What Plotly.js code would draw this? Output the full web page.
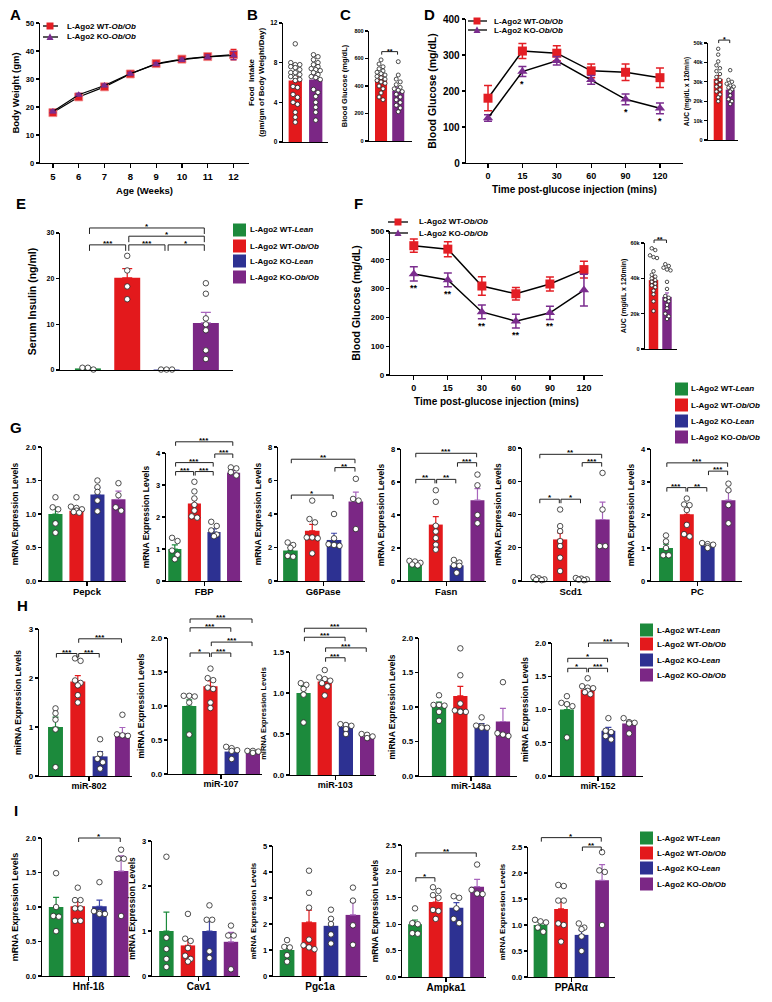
<!DOCTYPE html>
<html><head><meta charset="utf-8">
<script src="https://cdn.plot.ly/plotly-3.0.1.min.js"></script>
<style>html,body{margin:0;padding:0;background:#fff}#chart{width:772px;height:1002px}</style>
</head><body><div id="chart"></div>
<script>
// ===================== DATA =====================
const groupNames = ['L-Ago2 WT-<i>Lean</i>','L-Ago2 WT-<i>Ob/Ob</i>','L-Ago2 KO-<i>Lean</i>','L-Ago2 KO-<i>Ob/Ob</i>'];
const lineNames = ['L-Ago2 WT-<i>Ob/Ob</i>','L-Ago2 KO-<i>Ob/Ob</i>'];

// A: body weight
const ageWeeks = [5,6,7,8,9,10,11,12];
const bodyWtWT = [18.0,23.6,27.2,31.8,35.5,37.1,38.0,38.7];
const bodyWtWTErr = [0.6,0.6,0.6,0.5,0.5,0.6,0.7,1.9];
const bodyWtKO = [18.4,24.4,27.7,31.9,35.3,36.9,37.9,38.4];
const bodyWtKOErr = [0.5,0.5,0.5,0.5,0.5,0.6,0.7,1.5];

// B: food intake
const foodMean = [6.2,6.3];
const foodErr = [0.4,0.4];
const foodWT = [9.9,8.0,7.8,7.8,7.6,7.5,7.3,7.0,7.0,6.8,6.6,6.5,6.3,6.2,5.6,5.5,4.8,4.5,4.0,3.8,3.0,2.5,2.0];
const foodKO = [8.8,8.6,8.3,8.0,7.8,7.6,7.4,7.3,7.2,7.0,6.8,6.6,6.5,6.3,5.3,5.0,4.6,4.0,3.5,3.0,2.2];

// C: fasting blood glucose
const glucMean = [450,365];
const glucErr = [22,25];
const glucWT = [590,560,540,525,510,500,490,480,470,460,450,440,430,420,400,380,350,320,300];
const glucKO = [577,480,450,430,410,390,380,370,360,340,320,300,280,260,240,213];
const glucSig = [[0,1,650,'**']];

// D: GTT
const gttTimes = ['0','15','30','60','90','120'];
const gttWT = [180,311,305,256,252,237];
const gttWTErr = [35,21,21,19,23,27];
const gttKO = [125,254,284,231,177,152];
const gttKOErr = [9,14,12,12,15,15];
const gttSig = ['','*','','','*','*'];
const gttAucMean = [31500,26000];
const gttAucErr = [1700,1500];
const gttAucWT = [47000,44000,40500,38500,37000,35500,34000,32500,31000,30000,28500,27500,26000,25000,23500,22000,20000];
const gttAucKO = [36000,31000,30000,29000,28000,27500,27000,26000,25000,23000,21000,20000,18500];
const gttAucSig = [[0,1,51500,'*']];

// E: serum insulin
const insulinMean = [0.35,20.2,0.1,10.3];
const insulinErr = [0.15,2.0,0.05,2.3];
const insulinPts = [[0.1,0.5,0.5],[25.0,21.8,18.3,15.5],[0.1,0.1,0.1],[19.0,16.7,11.3,10.0,8.7,4.3,2.4]];
const insulinSig = [[0,3,31.1,'*'],[1,3,29.3,'*'],[0,1,27.4,'***'],[1,2,27.4,'***'],[2,3,27.4,'*']];

// F: ITT
const ittWT = [449,437,309,282,316,366];
const ittWTErr = [23,26,32,22,24,29];
const ittKO = [351,330,219,187,216,295];
const ittKOErr = [25,24,24,24,23,55];
const ittSig = ['**','**','**','**','**',''];
const ittAucMean = [39000,29500];
const ittAucErr = [2300,2300];
const ittAucWT = [57000,56000,53000,52000,51500,44000,42000,41000,40000,39000,38000,37000,36000,35000,33000,31000,27000,21500];
const ittAucKO = [48000,47000,46000,45000,44500,38000,34000,30000,29000,28000,27000,25000,23000,20000,18500,17000];
const ittAucSig = [[0,1,61700,'**']];

// G: mRNA
const pepckMean = [1.00,1.05,1.29,1.22];
const pepckErr = [0.10,0.04,0.10,0.12];
const pepckPts = [[1.25,1.10,1.07,0.86,0.72],[1.25,1.11,1.09,1.07,1.05,1.03,1.02],[1.50,1.40,1.33,1.20,1.04],[1.46,1.28,1.10,1.05]];
const fbpMean = [1.00,2.42,1.53,3.38];
const fbpErr = [0.13,0.15,0.10,0.08];
const fbpPts = [[1.35,1.25,0.95,0.82,0.68],[3.10,2.80,2.58,2.38,2.20,2.02,1.98],[1.85,1.72,1.58,1.45,1.40],[3.55,3.52,3.40,3.30]];
const fbpSig = [[0,3,4.35,'***'],[2,3,3.97,'***'],[0,2,3.70,'***'],[0,1,3.42,'***'],[1,2,3.42,'***']];
const g6pMean = [1.82,3.00,2.45,4.75];
const g6pErr = [0.18,0.38,0.40,0.55];
const g6pPts = [[2.30,2.15,1.98,1.50,1.45],[4.80,3.70,3.50,2.60,2.60,2.55,1.65],[4.00,2.55,2.20,2.15,2.10],[6.10,4.90,4.80,3.10]];
const g6pSig = [[0,3,7.27,'**'],[2,3,6.77,'**'],[0,2,5.13,'*']];
const fasnMean = [1.05,3.42,0.95,4.90];
const fasnErr = [0.06,0.48,0.11,0.70];
const fasnPts = [[1.22,1.18,1.10,1.00,0.95],[5.50,4.80,3.35,3.00,2.60,2.20,1.90],[1.28,1.12,0.95,0.92,0.50],[6.45,5.80,4.00,3.50]];
const fasnSig = [[0,3,7.74,'***'],[2,3,7.17,'***'],[0,1,6.16,'**'],[1,2,6.16,'**']];
const scd1Mean = [1.3,25.0,1.0,37.0];
const scd1Err = [0.4,4.0,0.3,10.5];
const scd1Pts = [[2.3,1.6,1.0,0.8,0.5],[43,33,30,24,21,14,6],[1.8,1.4,1.0,0.8,0.5],[65,43,21,21]];
const scd1Sig = [[0,3,76.2,'**'],[2,3,71.2,'***'],[0,1,49.2,'*'],[1,2,49.2,'*']];
const pcMean = [1.00,2.02,1.07,2.45];
const pcErr = [0.12,0.16,0.04,0.27];
const pcPts = [[1.38,1.20,1.00,0.78,0.78],[2.50,2.32,2.30,2.15,1.70,1.42,1.35],[1.15,1.12,1.10,1.05,1.00],[2.95,2.75,2.30,1.75]];
const pcSig = [[0,3,3.58,'***'],[2,3,3.33,'***'],[0,1,2.83,'***'],[1,2,2.83,'**']];

// H: miRNA
const mir802Mean = [1.00,1.93,0.40,0.87];
const mir802Err = [0.20,0.12,0.10,0.12];
const mir802Pts = [[1.38,1.28,1.15,0.95,0.18],[2.40,2.35,1.95,1.90,1.85,1.65,1.50],[0.75,0.45,0.35,0.28,0.15],[1.25,0.85,0.83,0.82]];
const mir802Sig = [[1,3,2.80,'***'],[0,1,2.50,'***'],[1,2,2.50,'***']];
const mir107Mean = [1.00,1.29,0.33,0.31];
const mir107Err = [0.09,0.08,0.03,0.02];
const mir107Pts = [[1.15,1.15,1.14,1.05,0.58],[1.55,1.41,1.38,1.27,1.25,1.05,0.97],[0.40,0.38,0.35,0.34,0.22],[0.34,0.34,0.33,0.31]];
const mir107Sig = [[0,3,2.28,'***'],[0,2,2.15,'***'],[1,3,1.94,'***'],[0,1,1.78,'*'],[1,2,1.78,'***']];
const mir103Mean = [1.00,1.14,0.59,0.47];
const mir103Err = [0.08,0.04,0.03,0.02];
const mir103Pts = [[1.12,1.10,1.05,0.98,0.64],[1.28,1.19,1.17,1.15,1.12,1.08,0.97],[0.62,0.61,0.60,0.56,0.50],[0.50,0.49,0.47,0.45]];
const mir103Sig = [[0,3,1.79,'***'],[0,2,1.68,'***'],[1,3,1.55,'***'],[1,2,1.43,'***']];
const mir148aMean = [1.02,1.16,0.73,0.79];
const mir148aErr = [0.05,0.14,0.03,0.19];
const mir148aPts = [[1.17,1.03,1.03,1.02,0.93,0.80],[1.85,1.46,1.05,0.95,0.94,0.93,0.93],[0.85,0.73,0.72,0.70,0.70],[1.36,0.62,0.60,0.58]];
const mir152Mean = [1.00,1.30,0.68,0.79];
const mir152Err = [0.10,0.04,0.05,0.03];
const mir152Pts = [[1.20,1.10,1.08,1.05,0.58],[1.47,1.35,1.33,1.32,1.28,1.26,1.23],[0.87,0.68,0.66,0.60,0.55],[0.87,0.81,0.80,0.79,0.64]];
const mir152Sig = [[1,3,2.00,'***'],[0,2,1.77,'*'],[0,1,1.62,'*'],[1,2,1.62,'***']];

// I: mRNA
const hnfMean = [1.00,1.01,1.01,1.52];
const hnfErr = [0.14,0.07,0.09,0.22];
const hnfPts = [[1.49,1.00,0.87,0.86,0.65],[1.28,1.10,1.10,0.98,0.98,0.80,0.80],[1.36,0.94,0.92,0.90,0.90],[1.83,1.70,1.70,0.87]];
const hnfSig = [[1,3,2.00,'*']];
const cav1Mean = [1.00,0.68,1.00,0.76];
const cav1Err = [0.42,0.12,0.22,0.21];
const cav1Pts = [[2.65,0.85,0.60,0.38,0.20],[1.38,0.83,0.78,0.62,0.45,0.38,0.32],[1.57,1.25,1.25,0.55,0.40],[1.12,0.90,0.90,0.15]];
const pgc1aMean = [1.00,2.07,1.93,2.35];
const pgc1aErr = [0.15,0.46,0.25,0.50];
const pgc1aPts = [[1.38,1.12,1.10,0.80,0.55],[4.05,3.20,2.63,1.40,1.18,1.10,1.03],[2.55,2.20,2.00,1.60,1.25],[3.40,2.90,1.95,1.20]];
const ampkMean = [1.00,1.42,1.31,1.71];
const ampkErr = [0.08,0.09,0.10,0.14];
const ampkPts = [[1.30,1.02,1.00,0.83,0.82],[1.70,1.63,1.55,1.50,1.27,1.25,1.10],[1.53,1.50,1.30,1.10,1.02],[2.13,1.65,1.58,1.57]];
const ampkSig = [[0,3,2.35,'**'],[0,1,1.88,'*']];
const pparMean = [1.00,1.31,0.81,1.86];
const pparErr = [0.05,0.15,0.09,0.30];
const pparPts = [[1.10,1.07,1.05,0.95,0.87],[1.77,1.75,1.47,1.47,1.03,1.00,0.68],[1.03,0.95,0.92,0.78,0.50],[2.40,2.05,2.02,1.00]];
const pparSig = [[0,3,2.68,'*'],[2,3,2.50,'**']];

// ===================== STYLE / HELPERS =====================
const W = 772, H = 1002;
const FONT = '"Liberation Sans", Arial, sans-serif';
const COLORS = ['#1c8a3c','#e3191c','#2d3192','#7b2785'];
const ERRCOL = ['#1c8a3c','#e3191c','#3f47a8','#a865bd'];
const RED_M = '#e31e24', PUR_M = '#7b2d8e';
function f(size, extra){ return Object.assign({family: FONT, size: size, color:'#000', weight:'bold'}, extra||{}); }
function px(p){ return p / W; }
function py(p){ return 1 - p / H; }

const traces = [], shapes = [], annotations = [];
const layout = {width:W, height:H, margin:{l:0,r:0,t:0,b:0,pad:0}, paper_bgcolor:'#fff', plot_bgcolor:'rgba(0,0,0,0)',
  showlegend:false, barmode:'overlay', font:{family:FONT, color:'#000'}, shapes:shapes, annotations:annotations, hovermode:false};

let axN = 0;
function addAxes(box, xr, yr, xo, yo) {
  axN++;
  const s = axN === 1 ? '' : String(axN);
  const xa = 'x' + s, ya = 'y' + s;
  layout['xaxis' + s] = Object.assign({domain:[px(box[0]), px(box[1])], range:xr, anchor:ya, showline:true, linecolor:'#000', linewidth:1.3,
    showgrid:false, zeroline:false, fixedrange:true, ticks:'', showticklabels:false}, xo || {});
  layout['yaxis' + s] = Object.assign({domain:[py(box[3]), py(box[2])], range:yr, anchor:xa, showline:true, linecolor:'#000', linewidth:1.3,
    showgrid:false, zeroline:false, fixedrange:true, ticks:'outside', ticklen:3, tickwidth:1.2, tickcolor:'#000', tickmode:'linear', tick0:0}, yo || {});
  return {xa:xa, ya:ya};
}

function jitter(vals, thr, step, span) {
  const order = vals.map((v,i)=>i).sort((a,b)=>vals[b]-vals[a]);
  const off = vals.map(()=>0);
  const perRow = Math.max(1, Math.floor(span / step) + 1);
  let cl = [];
  const flush = () => {
    for (let r = 0; r < cl.length; r += perRow) {
      const row = cl.slice(r, r + perRow), m = row.length;
      row.forEach((ii,j)=>{ off[ii] = (j - (m-1)/2) * step; });
    }
    cl = [];
  };
  order.forEach(i => { if (cl.length && vals[cl[0]] - vals[i] > thr) flush(); cl.push(i); });
  flush();
  return off;
}

function addBracket(ax, s, ymax, ppu, tickPx, fs) {
  const a = s[0], b = s[1], v = s[2], lab = s[3];
  const yd = v / ymax, dy = tickPx / ppu / ymax;
  const x1 = a + 0.04, x2 = b - 0.04;
  shapes.push({type:'path', xref:ax.xa, yref:ax.ya + ' domain', path:'M' + x1 + ',' + (yd - dy) + ' L' + x1 + ',' + yd + ' L' + x2 + ',' + yd + ' L' + x2 + ',' + (yd - dy),
    line:{color:'#222', width:1}});
  annotations.push({xref:ax.xa, yref:ax.ya + ' domain', x:(a + b) / 2, y:yd, text:lab, showarrow:false, xanchor:'center', yanchor:'bottom', yshift:-4,
    font:f(fs || 8), borderpad:0});
}

function barPanel(cfg, d) {
  const groups = cfg.groups || [0,1,2,3];
  const xo = d.label ? {tickmode:'array', tickvals:[(groups.length - 1) / 2], ticktext:[d.label], ticks:'outside', ticklen:4, tickwidth:1.2,
    tickcolor:'#000', showticklabels:true, ticklabelstandoff:-3, tickfont:f(cfg.catSize || 9.5)} : {};
  const yo = {dtick:cfg.dtick, tickformat:cfg.fmt || '', tickfont:f(cfg.tickSize || 7.5),
    title:{text:d.ytitle, font:f(cfg.titleSize || 8.5), standoff:(cfg.standoff == null ? 4 : cfg.standoff)}};
  const ax = addAxes(cfg.box, cfg.xr, [0, cfg.ymax], xo, yo);
  const ppu = (cfg.box[3] - cfg.box[2]) / cfg.ymax;
  const xppu = (cfg.box[1] - cfg.box[0]) / (cfg.xr[1] - cfg.xr[0]);
  const ms = cfg.ms || 5.5;
  groups.forEach((g, i) => {
    traces.push({type:'bar', x:[i], y:[d.mean[i]], width:cfg.bw || 0.67, xaxis:ax.xa, yaxis:ax.ya, marker:{color:COLORS[g], line:{width:0}},
      error_y:{type:'data', array:[d.err[i]], arrayminus:[0], symmetric:false, color:ERRCOL[g], thickness:1.2, width:cfg.capW || 3},
      hoverinfo:'skip', showlegend:false});
  });
  const xs = [], ys = [];
  d.pts.forEach((arr, i) => {
    const off = jitter(arr, ms * 0.85 / ppu, ms * 1.0 / xppu, (cfg.bw || 0.67) * 0.85);
    arr.forEach((v, j) => { xs.push(i + off[j]); ys.push(v); });
  });
  traces.push({type:'scatter', mode:'markers', x:xs, y:ys, xaxis:ax.xa, yaxis:ax.ya, cliponaxis:false,
    marker:{symbol:'circle', size:ms, color:'#fff', line:{color:'#222', width:0.8}}, hoverinfo:'skip', showlegend:false});
  (d.sig || []).forEach(s => addBracket(ax, s, cfg.ymax, ppu, cfg.tickPx || 4, cfg.sigSize || 8));
  return ax;
}

function groupLegend(x0, rows, textX) {
  groupNames.forEach((nm, i) => {
    const y = rows[i];
    shapes.push({type:'rect', xref:'paper', yref:'paper', x0:px(x0), x1:px(x0 + 13), y0:py(y + 6.5), y1:py(y - 6.5), fillcolor:COLORS[i], line:{width:0}});
    annotations.push({xref:'paper', yref:'paper', x:px(textX), y:py(y), xanchor:'left', yanchor:'middle', text:nm, showarrow:false, font:f(8), borderpad:0});
  });
}
function lineLegend(l0, l1, mx, y, color, sym, textX, name, ms) {
  shapes.push({type:'line', xref:'paper', yref:'paper', x0:px(l0), x1:px(l1), y0:py(y), y1:py(y), line:{color:'#000', width:1.3}});
  if (sym === 'square') {
    shapes.push({type:'rect', xref:'paper', yref:'paper', x0:px(mx - ms/2), x1:px(mx + ms/2), y0:py(y + ms/2), y1:py(y - ms/2), fillcolor:color, line:{width:0}});
  } else {
    shapes.push({type:'path', xref:'paper', yref:'paper', path:'M' + px(mx - ms/2) + ',' + py(y + ms*0.42) + ' L' + px(mx + ms/2) + ',' + py(y + ms*0.42) +
      ' L' + px(mx) + ',' + py(y - ms*0.55) + ' Z', fillcolor:color, line:{width:0}});
  }
  annotations.push({xref:'paper', yref:'paper', x:px(textX), y:py(y), xanchor:'left', yanchor:'middle', text:name, showarrow:false, font:f(8), borderpad:0});
}

// ===================== PANEL A =====================
(function(){
  const ax = addAxes([40,249,23,163], [4.5,12.6], [0,50],
    {tick0:5, dtick:1, tickmode:'linear', ticks:'outside', ticklen:4, tickwidth:1.2, tickcolor:'#000', showticklabels:true, tickfont:f(9.5),
     title:{text:'Age (Weeks)', font:f(9.5), standoff:6}},
    {dtick:10, tickfont:f(7.5), title:{text:'Body Weight (gm)', font:f(9.5), standoff:4}});
  traces.push({type:'scatter', mode:'lines+markers', x:ageWeeks, y:bodyWtWT, xaxis:ax.xa, yaxis:ax.ya, line:{color:'#000', width:1.2},
    marker:{symbol:'square', size:8, color:RED_M, line:{color:'#f08a8a', width:0.8}}, error_y:{type:'data', array:bodyWtWTErr, color:RED_M, thickness:1.2, width:3}, cliponaxis:false});
  traces.push({type:'scatter', mode:'lines+markers', x:ageWeeks, y:bodyWtKO, xaxis:ax.xa, yaxis:ax.ya, line:{color:'#000', width:1.2},
    marker:{symbol:'triangle-up', size:7, color:PUR_M}, error_y:{type:'data', array:bodyWtKOErr, color:PUR_M, thickness:1.2, width:3}, cliponaxis:false});
  lineLegend(43, 58, 50, 26, RED_M, 'square', 66, lineNames[0], 7);
  lineLegend(43, 58, 50, 37, PUR_M, 'triangle', 66, lineNames[1], 7);
})();

// ===================== PANEL B =====================
barPanel({box:[283,328,23,142], xr:[-0.6,1.6], ymax:12, dtick:4, tickSize:6.5, titleSize:8, standoff:4, bw:0.65, ms:4.5, groups:[1,3]},
  {mean:foodMean, err:foodErr, pts:[foodWT, foodKO], ytitle:'Food  Intake<br>(gm/gm of Body Weight/Day)'});

// ===================== PANEL C =====================
barPanel({box:[369,412,31,141], xr:[-0.7,1.8], ymax:800, dtick:200, tickSize:5.5, titleSize:7.5, standoff:5, bw:0.7, ms:4, groups:[1,3], sigSize:7, tickPx:3},
  {mean:glucMean, err:glucErr, pts:[glucWT, glucKO], sig:glucSig, ytitle:'Blood Glucose (mg/dL)'});

// ===================== PANEL D =====================
(function(){
  const idx = gttTimes.map((t, i) => i);
  const ax = addAxes([466,683,19,163], [-0.64,5.67], [0,400],
    {tickmode:'array', tickvals:idx, ticktext:gttTimes, ticks:'outside', ticklen:4, tickwidth:1.2, tickcolor:'#000', showticklabels:true, tickfont:f(9),
     title:{text:'Time post-glucose injection (mins)', font:f(10), standoff:6}},
    {dtick:100, tickfont:f(10), title:{text:'Blood Glucose (mg/dL)', font:f(10.5), standoff:4}});
  traces.push({type:'scatter', mode:'lines+markers', x:idx, y:gttWT, xaxis:ax.xa, yaxis:ax.ya, line:{color:'#000', width:1.5},
    marker:{symbol:'square', size:9, color:RED_M}, error_y:{type:'data', array:gttWTErr, color:RED_M, thickness:1.5, width:4}, cliponaxis:false});
  traces.push({type:'scatter', mode:'lines+markers', x:idx, y:gttKO, xaxis:ax.xa, yaxis:ax.ya, line:{color:'#000', width:1.5},
    marker:{symbol:'triangle-up', size:9, color:PUR_M}, error_y:{type:'data', array:gttKOErr, color:PUR_M, thickness:1.5, width:4}, cliponaxis:false});
  gttSig.forEach((s, i) => { if (s) annotations.push({xref:ax.xa, yref:ax.ya, x:i, y:gttKO[i] - gttKOErr[i], text:s, showarrow:false, yanchor:'top', yshift:-1, font:f(9), borderpad:0}); });
  lineLegend(468, 487, 477, 21, RED_M, 'square', 493, lineNames[0], 7);
  lineLegend(468, 487, 477, 30, PUR_M, 'triangle', 493, lineNames[1], 7);
})();
barPanel({box:[708,738,43,140], xr:[-0.85,1.65], ymax:50000, dtick:10000, tickSize:5.5, titleSize:6.5, standoff:3, bw:0.75, ms:3.5, groups:[1,3], sigSize:7, tickPx:3, capW:2},
  {mean:gttAucMean, err:gttAucErr, pts:[gttAucWT, gttAucKO], sig:gttAucSig, ytitle:'AUC (mg/dL x 120min)'});

// ===================== PANEL E =====================
barPanel({box:[60,233,233,370], xr:[-0.71,3.69], ymax:30, dtick:10, tickSize:7, titleSize:10.5, standoff:7, bw:0.66, ms:5.5, tickPx:6, capW:5},
  {mean:insulinMean, err:insulinErr, pts:insulinPts, sig:insulinSig, ytitle:'Serum Insulin (ng/ml)'});
groupLegend(233, [230,246,261,277], 249);

// ===================== PANEL F =====================
(function(){
  const idx = gttTimes.map((t, i) => i);
  const ax = addAxes([390,603,231,375], [-0.7,5.56], [0,500],
    {tickmode:'array', tickvals:idx, ticktext:gttTimes, ticks:'outside', ticklen:4, tickwidth:1.2, tickcolor:'#000', showticklabels:true, tickfont:f(9),
     title:{text:'Time post-glucose injection (mins)', font:f(10), standoff:6}},
    {dtick:100, tickfont:f(8), title:{text:'Blood Glucose (mg/dL)', font:f(10.5), standoff:8}});
  traces.push({type:'scatter', mode:'lines+markers', x:idx, y:ittWT, xaxis:ax.xa, yaxis:ax.ya, line:{color:'#000', width:1.5},
    marker:{symbol:'square', size:9, color:RED_M}, error_y:{type:'data', array:ittWTErr, color:RED_M, thickness:1.5, width:4}, cliponaxis:false});
  traces.push({type:'scatter', mode:'lines+markers', x:idx, y:ittKO, xaxis:ax.xa, yaxis:ax.ya, line:{color:'#000', width:1.5},
    marker:{symbol:'triangle-up', size:9, color:PUR_M}, error_y:{type:'data', array:ittKOErr, color:PUR_M, thickness:1.5, width:4}, cliponaxis:false});
  ittSig.forEach((s, i) => { if (s) annotations.push({xref:ax.xa, yref:ax.ya, x:i, y:ittKO[i] - ittKOErr[i], text:s, showarrow:false, yanchor:'top', yshift:-1, font:f(9), borderpad:0}); });
  lineLegend(388, 408, 398, 222, RED_M, 'square', 418, lineNames[0], 7);
  lineLegend(388, 408, 398, 233, PUR_M, 'triangle', 418, lineNames[1], 7);
})();
barPanel({box:[645,677,243,349], xr:[-0.63,1.74], ymax:60000, dtick:20000, tickSize:5.5, titleSize:7, standoff:3, bw:0.7, ms:3.5, groups:[1,3], sigSize:7, tickPx:3, capW:2},
  {mean:ittAucMean, err:ittAucErr, pts:[ittAucWT, ittAucKO], sig:ittAucSig, ytitle:'AUC (mg/dL x 120min)'});

// ===================== PANEL G =====================
const G = {tickSize:7.5, titleSize:8.5, catSize:9.5, bw:0.67, ms:5.5, standoff:5};
const mRNA = 'mRNA Expression Levels', miRNA = 'miRNA Expression Levels';
barPanel(Object.assign({box:[42,126,447,581], xr:[-0.64,3.36], ymax:2, dtick:0.5, fmt:'.1f'}, G), {mean:pepckMean, err:pepckErr, pts:pepckPts, label:'Pepck', ytitle:mRNA});
barPanel(Object.assign({box:[166,242,453,581], xr:[-0.45,3.43], ymax:4, dtick:1}, G), {mean:fbpMean, err:fbpErr, pts:fbpPts, sig:fbpSig, label:'FBP', ytitle:mRNA});
barPanel(Object.assign({box:[278,365,447,581], xr:[-0.57,3.42], ymax:8, dtick:2}, G), {mean:g6pMean, err:g6pErr, pts:g6pPts, sig:g6pSig, label:'G6Pase', ytitle:mRNA});
barPanel(Object.assign({box:[401,486,449,581], xr:[-0.67,3.41], ymax:8, dtick:2}, G), {mean:fasnMean, err:fasnErr, pts:fasnPts, sig:fasnSig, label:'Fasn', ytitle:mRNA});
barPanel(Object.assign({box:[522,611,448,581], xr:[-0.8,3.4], ymax:80, dtick:20}, G), {mean:scd1Mean, err:scd1Err, pts:scd1Pts, sig:scd1Sig, label:'Scd1', ytitle:mRNA});
barPanel(Object.assign({box:[651,742,449,581], xr:[-0.72,3.65], ymax:4, dtick:1}, G), {mean:pcMean, err:pcErr, pts:pcPts, sig:pcSig, label:'PC', ytitle:mRNA});
groupLegend(675, [389,405,421,437], 690);

// ===================== PANEL H =====================
const Hc = {tickSize:8, titleSize:8.5, catSize:9, bw:0.67, ms:5.5, standoff:5};
barPanel(Object.assign({box:[39,132,629,776], xr:[-0.74,3.43], ymax:3, dtick:1, titleSize:9}, Hc), {mean:mir802Mean, err:mir802Err, pts:mir802Pts, sig:mir802Sig, label:'miR-802', ytitle:miRNA});
barPanel(Object.assign({box:[168,262,638,774], xr:[-1.0,3.43], ymax:2, dtick:0.5, fmt:'.1f'}, Hc), {mean:mir107Mean, err:mir107Err, pts:mir107Pts, sig:mir107Sig, label:'miR-107', ytitle:miRNA});
barPanel(Object.assign({box:[290,376,652,775], xr:[-0.64,3.42], ymax:1.5, dtick:0.5, fmt:'.1f'}, Hc, {titleSize:7.5}), {mean:mir103Mean, err:mir103Err, pts:mir103Pts, sig:mir103Sig, label:'miR-103', ytitle:miRNA});
barPanel(Object.assign({box:[419,517,638,776], xr:[-0.94,3.66], ymax:2, dtick:0.5, fmt:'.1f'}, Hc), {mean:mir148aMean, err:mir148aErr, pts:mir148aPts, label:'miR-148a', ytitle:miRNA});
barPanel(Object.assign({box:[552,643,643,776], xr:[-0.72,3.67], ymax:2, dtick:0.5, fmt:'.1f'}, Hc), {mean:mir152Mean, err:mir152Err, pts:mir152Pts, sig:mir152Sig, label:'miR-152', ytitle:miRNA});
groupLegend(640, [630,644,660,675], 656);

// ===================== PANEL I =====================
const Ic = {tickSize:7.5, titleSize:8.5, catSize:10, bw:0.67, ms:5.5, standoff:5};
barPanel(Object.assign({box:[42,130,838,976], xr:[-0.65,3.41], ymax:2, dtick:0.5, fmt:'.1f'}, Ic, {titleSize:9}), {mean:hnfMean, err:hnfErr, pts:hnfPts, sig:hnfSig, label:'Hnf-1ß', ytitle:mRNA});
barPanel(Object.assign({box:[152,240,841,976], xr:[-0.67,3.42], ymax:3, dtick:1}, Ic), {mean:cav1Mean, err:cav1Err, pts:cav1Pts, label:'Cav1', ytitle:mRNA});
barPanel(Object.assign({box:[273,367,846,976], xr:[-0.64,3.64], ymax:5, dtick:1}, Ic, {titleSize:8}), {mean:pgc1aMean, err:pgc1aErr, pts:pgc1aPts, label:'Pgc1a', ytitle:mRNA});
barPanel(Object.assign({box:[402,486,845,977], xr:[-0.63,3.43], ymax:2.5, dtick:0.5, fmt:'.1f'}, Ic), {mean:ampkMean, err:ampkErr, pts:ampkPts, sig:ampkSig, label:'Ampka1', ytitle:mRNA});
barPanel(Object.assign({box:[528,615,847,977], xr:[-0.61,3.63], ymax:2.5, dtick:0.5, fmt:'.1f'}, Ic, {titleSize:8}), {mean:pparMean, err:pparErr, pts:pparPts, sig:pparSig, label:'PPARα', ytitle:mRNA});
groupLegend(640, [838,853,868,884], 656);

// ===================== PANEL LETTERS =====================
[['A',15,15],['B',252,15],['C',345,15],['D',429,15],['E',21,203],['F',358,203],['G',16,428],['H',22,605],['I',16,810]].forEach(l => {
  annotations.push({xref:'paper', yref:'paper', x:px(l[1]), y:py(l[2]), text:l[0], showarrow:false, xanchor:'center', yanchor:'middle', font:f(15), borderpad:0});
});

Plotly.newPlot('chart', traces, layout, {staticPlot:true, displayModeBar:false});
</script>
</body></html>
